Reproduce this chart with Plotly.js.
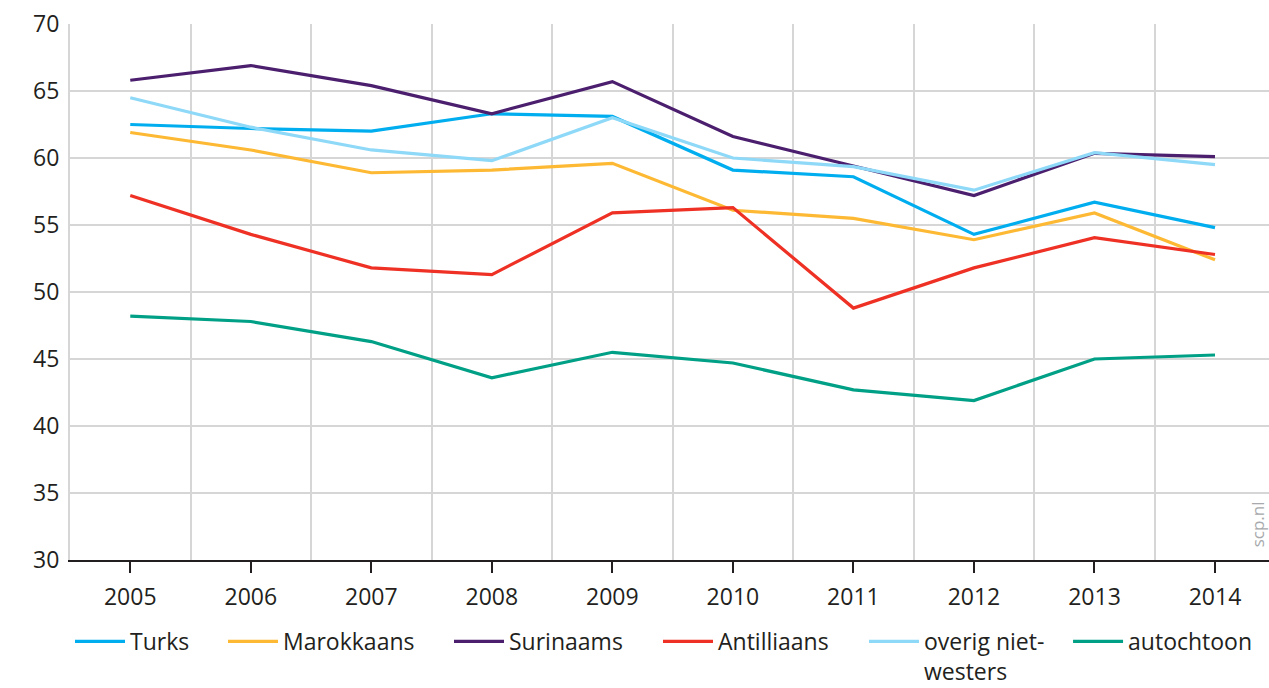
<!DOCTYPE html>
<html>
<head>
<meta charset="utf-8">
<script src="https://cdn.plot.ly/plotly-3.0.1.min.js"></script>
<style>html,body{margin:0;padding:0;background:#fff;}#chart{width:1269px;height:688px;}</style>
</head>
<body>
<div id="chart"></div>
<script>
const years = [2005, 2006, 2007, 2008, 2009, 2010, 2011, 2012, 2013, 2014];
const turks = [62.5, 62.2, 62.0, 63.3, 63.1, 59.1, 58.6, 54.3, 56.7, 54.8];
const marokkaans = [61.9, 60.6, 58.9, 59.1, 59.6, 56.1, 55.5, 53.9, 55.9, 52.4];
const surinaams = [65.8, 66.9, 65.4, 63.3, 65.7, 61.6, 59.4, 57.2, 60.35, 60.1];
const antilliaans = [57.2, 54.3, 51.8, 51.3, 55.9, 56.3, 48.8, 51.8, 54.05, 52.8];
const overig = [64.5, 62.3, 60.6, 59.8, 63.0, 60.0, 59.35, 57.6, 60.4, 59.5];
const autochtoon = [48.2, 47.8, 46.3, 43.6, 45.5, 44.7, 42.7, 41.9, 45.0, 45.3];
const seriesNames = ["Turks", "Marokkaans", "Surinaams", "Antilliaans", "overig niet-<br>westers", "autochtoon"];
const yTicks = [30, 35, 40, 45, 50, 55, 60, 65, 70];

const colors = ["#00AEEF", "#FDB933", "#4B1E6E", "#EE3124", "#8ED8F8", "#00A086"];
const data = [turks, marokkaans, surinaams, antilliaans, overig, autochtoon];
const legendIds = ["legend", "legend2", "legend3", "legend4", "legend5", "legend6"];
const legendX = [0, 0.1276, 0.3161, 0.4904, 0.6622, 0.8324];

const traces = data.map((vals, i) => ({
  x: years, y: vals, type: "scatter", mode: "lines",
  name: seriesNames[i],
  legend: legendIds[i],
  line: {color: colors[i], width: 3.2},
  hoverinfo: "skip"
}));

const font = {family: "Open Sans, sans-serif", size: 23, color: "#231F20"};

const layout = {
  width: 1269, height: 688,
  margin: {l: 70, r: 0, t: 24, b: 128, pad: 0, autoexpand: false},
  paper_bgcolor: "#fff", plot_bgcolor: "#fff",
  font: font,
  showlegend: true,
  xaxis: {
    range: [2004.5, 2014.448],
    tickvals: years, ticktext: years.map(String),
    showgrid: false, zeroline: false,
    showline: true, linecolor: "#231F20", linewidth: 2,
    ticks: "outside", ticklen: 11, tickwidth: 2, tickcolor: "#231F20",
    ticklabelstandoff: 4,
    tickfont: font,
    minor: {tickmode: "linear", tick0: 2004.5, dtick: 1, showgrid: true, gridcolor: "#D6D6D6", gridwidth: 2, ticks: ""},
    fixedrange: true
  },
  yaxis: {
    range: [30, 70],
    tickvals: yTicks, ticktext: yTicks.map(String),
    showgrid: true, gridcolor: "#D6D6D6", gridwidth: 2,
    zeroline: false, showline: true, linecolor: "#D6D6D6", linewidth: 2,
    ticks: "", ticklabelstandoff: 4,
    tickfont: font,
    fixedrange: true
  },
  annotations: [{
    text: "scp.nl", xref: "paper", yref: "paper", x: 0.99, y: 0.02,
    xanchor: "center", yanchor: "bottom", showarrow: false, textangle: -90,
    font: {family: "Open Sans, sans-serif", size: 17, color: "#A7A9AC"}
  }]
};

legendIds.forEach((id, i) => {
  layout[id] = {
    orientation: "h", x: legendX[i], xanchor: "left",
    yref: "container", y: 0.099, yanchor: "top",
    font: font, valign: "top", itemwidth: 50, bgcolor: "rgba(0,0,0,0)"
  };
});

Plotly.newPlot("chart", traces, layout, {displayModeBar: false, staticPlot: true});
</script>
</body>
</html>
